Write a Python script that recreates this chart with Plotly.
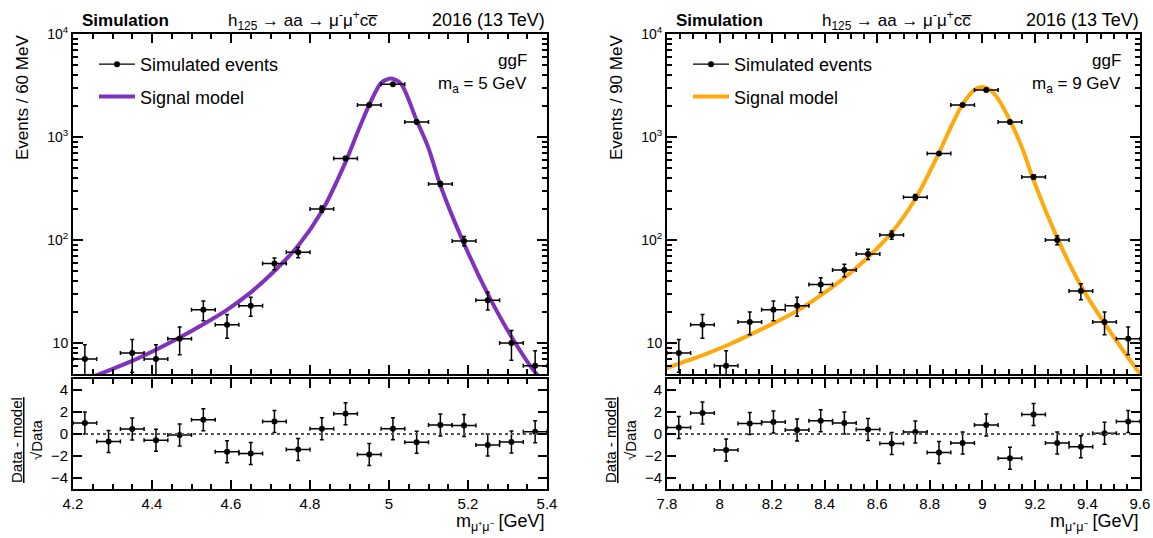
import plotly.graph_objects as go

W, H = 1153, 538

# ---------------- data: left panel (m_a = 5 GeV, 60 MeV bins) ----------------
left_centers = [4.23, 4.29, 4.35, 4.41, 4.47, 4.53, 4.59, 4.65, 4.71, 4.77,
                4.83, 4.89, 4.95, 5.01, 5.07, 5.13, 5.19, 5.25, 5.31, 5.37]
left_halfwidth = [0.03] * 20
left_events = [7, 3, 8, 7, 11, 21, 15, 23, 59, 76,
               200, 620, 2050, 3250, 1400, 350, 98, 26, 10, 6]
left_errors = [2.6, 1.7, 2.8, 2.6, 3.3, 4.6, 3.9, 4.8, 7.7, 8.7,
               14, 25, 45, 57, 37, 19, 9.9, 5.1, 3.2, 2.4]
left_pulls = [1.0, -0.69, 0.45, -0.57, -0.09, 1.29, -1.62, -1.77, 1.14, -1.41,
              0.48, 1.83, -1.86, 0.48, -0.75, 0.81, 0.78, -0.99, -0.72, 0.21]
left_pull_err = [1.0] * 20
left_model_x = [4.20, 4.23, 4.29, 4.35, 4.41, 4.47, 4.53, 4.59, 4.65, 4.71, 4.77,
                4.83, 4.89, 4.92, 4.95, 4.98, 5.005, 5.03, 5.07, 5.10, 5.13,
                5.19, 5.25, 5.31, 5.37, 5.40]
left_model_y = [4.0, 4.4, 5.4, 6.7, 8.6, 11.3, 15.2, 21, 31, 50, 88,
                190, 570, 1100, 2050, 3350, 3700, 3300, 1450, 780, 340,
                92, 30, 11.5, 5.2, 4.0]

# ---------------- data: right panel (m_a = 9 GeV, 90 MeV bins) ----------------
right_centers = [7.845, 7.935, 8.025, 8.115, 8.205, 8.295, 8.385, 8.475, 8.565, 8.655,
                 8.745, 8.835, 8.925, 9.015, 9.105, 9.195, 9.285, 9.375, 9.465, 9.555]
right_halfwidth = [0.045] * 20
right_events = [8, 15, 6, 16, 21, 23, 37, 51, 73, 112,
                260, 690, 2050, 2860, 1400, 410, 100, 32, 16, 11]
right_errors = [2.8, 3.9, 2.4, 4.0, 4.6, 4.8, 6.1, 7.1, 8.5, 10.6,
                16, 26, 45, 53, 37, 20, 10, 5.7, 4.0, 3.3]
right_pulls = [0.6, 1.9, -1.45, 0.96, 1.1, 0.36, 1.2, 1.0, 0.42, -0.87,
               0.18, -1.68, -0.81, 0.81, -2.2, 1.77, -0.81, -1.17, 0.06, 1.14]
right_pull_err = [1.0] * 20
right_model_x = [7.80, 7.845, 7.935, 8.025, 8.115, 8.205, 8.295, 8.385, 8.475, 8.565,
                 8.655, 8.745, 8.835, 8.88, 8.925, 8.97, 9.00, 9.03, 9.06, 9.105,
                 9.15, 9.195, 9.285, 9.375, 9.465, 9.555, 9.60]
right_model_y = [5.7, 6.3, 7.6, 9.4, 12.0, 15.5, 20.5, 29, 43, 68,
                 118, 250, 700, 1250, 2080, 2870, 3050, 2870, 2350, 1450,
                 800, 380, 105, 36, 15.5, 7.2, 5.0]

log_tickvals = [10, 100, 1000, 10000]
log_ticktext = ["10", "10<sup>2</sup>", "10<sup>3</sup>", "10<sup>4</sup>"]
pull_tickvals = [-4, -2, 0, 2, 4]

FONT = "Liberation Sans, Arial, Helvetica, sans-serif"
PURPLE = "#8031BD"
ORANGE = "#FFA90E"

# layout geometry (pixels)
L_X0, L_X1 = 73, 547
R_X0, R_X1 = 667, 1140
TOP_Y0, TOP_Y1 = 34, 374
BOT_Y0, BOT_Y1 = 379, 489


def px(x):
    return x / W


def py(y):
    return 1 - y / H


fig = go.Figure()

panels = [
    dict(cx=left_centers, hw=left_halfwidth, ev=left_events, er=left_errors,
         pu=left_pulls, pe=left_pull_err, mx=left_model_x, my=left_model_y,
         color=PURPLE, xr=[4.2, 5.4], top=("x", "y"), bot=("x2", "y2"), legend="legend"),
    dict(cx=right_centers, hw=right_halfwidth, ev=right_events, er=right_errors,
         pu=right_pulls, pe=right_pull_err, mx=right_model_x, my=right_model_y,
         color=ORANGE, xr=[7.8, 9.6], top=("x3", "y3"), bot=("x4", "y4"), legend="legend2"),
]

for p in panels:
    tx, ty = p["top"]
    bx, by = p["bot"]
    # legend-only entries
    fig.add_trace(go.Scatter(x=[None], y=[None], mode="lines+markers",
                             line=dict(color="black", width=1.2),
                             marker=dict(color="black", size=6),
                             name="Simulated events", legend=p["legend"],
                             legendgroup=p["legend"] + "a", showlegend=True,
                             xaxis=tx, yaxis=ty))
    fig.add_trace(go.Scatter(x=[None], y=[None], mode="lines",
                             line=dict(color=p["color"], width=4),
                             name="Signal model", legend=p["legend"],
                             legendgroup=p["legend"] + "b", showlegend=True,
                             xaxis=tx, yaxis=ty))
    # model curve
    fig.add_trace(go.Scatter(x=p["mx"], y=p["my"], mode="lines",
                             line=dict(color=p["color"], width=4, shape="spline", smoothing=0.8),
                             showlegend=False, xaxis=tx, yaxis=ty, hoverinfo="skip"))
    # simulated events
    fig.add_trace(go.Scatter(x=p["cx"], y=p["ev"], mode="markers",
                             marker=dict(color="black", size=6),
                             error_y=dict(type="data", array=p["er"], color="black",
                                          thickness=1.5, width=2),
                             error_x=dict(type="data", array=p["hw"], color="black",
                                          thickness=1.5, width=2),
                             showlegend=False, xaxis=tx, yaxis=ty))
    # pulls
    fig.add_trace(go.Scatter(x=p["cx"], y=p["pu"], mode="markers",
                             marker=dict(color="black", size=6),
                             error_y=dict(type="data", array=p["pe"], color="black",
                                          thickness=1.5, width=2),
                             error_x=dict(type="data", array=p["hw"], color="black",
                                          thickness=1.5, width=2),
                             showlegend=False, xaxis=bx, yaxis=by))
    # zero line
    fig.add_trace(go.Scatter(x=p["xr"], y=[0, 0], mode="lines",
                             line=dict(color="#555555", width=2, dash="dot"),
                             showlegend=False, xaxis=bx, yaxis=by, hoverinfo="skip"))


def xaxis(domain, rng, anchor, labels):
    return dict(domain=domain, range=rng, anchor=anchor, showline=True, linecolor="black",
                linewidth=2, mirror="allticks", ticks="inside", ticklen=9, tickwidth=1.5,
                tickcolor="black", tick0=rng[0], dtick=0.2, showgrid=False, zeroline=False,
                automargin=False,
                showticklabels=labels, tickfont=dict(size=15, color="black", family=FONT),
                minor=dict(ticks="inside", ticklen=5, dtick=0.05, tick0=rng[0],
                           tickcolor="black", tickwidth=1.5, showgrid=False))


def ylog(domain, anchor):
    return dict(domain=domain, type="log", range=[0.69897, 4], anchor=anchor,
                showline=True, linecolor="black", linewidth=2, mirror="allticks",
                ticks="inside", ticklen=10, tickwidth=1.5, tickcolor="black",
                tickmode="array", tickvals=log_tickvals, ticktext=log_ticktext,
                showgrid=False, zeroline=False, automargin=False,
                tickfont=dict(size=14, color="black", family=FONT),
                minor=dict(ticks="inside", ticklen=5, dtick="D1", tickcolor="black",
                           tickwidth=1.5, showgrid=False))


def ypull(domain, anchor):
    return dict(domain=domain, range=[-5, 5], anchor=anchor, showline=True,
                linecolor="black", linewidth=2, mirror="allticks", ticks="inside",
                ticklen=9, tickwidth=1.5, tickcolor="black", tickmode="array",
                tickvals=pull_tickvals, showgrid=False, zeroline=False, automargin=False,
                tickfont=dict(size=15, color="black", family=FONT))


top_dom = [py(TOP_Y1), py(TOP_Y0)]
bot_dom = [py(BOT_Y1), py(BOT_Y0)]
ldom = [px(L_X0), px(L_X1)]
rdom = [px(R_X0), px(R_X1)]

annotations = []
for dx, binlab, malab in [(0, "60", "5"), (R_X0 - L_X0, "90", "9")]:
    annotations += [
        dict(text="<b>Simulation</b>", x=px(80 + dx), y=py(20), xanchor="left",
             yanchor="middle", font=dict(size=17)),
        dict(text="h<sub>125</sub> → aa → μ<sup>-</sup>μ<sup>+</sup>cc\u0305",
             x=px(303 + dx), y=py(20), xanchor="center", yanchor="middle",
             font=dict(size=17)),
        dict(text="2016 (13 TeV)", x=px(547 + dx), y=py(20), xanchor="right",
             yanchor="middle", font=dict(size=18)),
        dict(text="ggF", x=px(529 + dx), y=py(61), xanchor="right", yanchor="middle",
             font=dict(size=17)),
        dict(text="m<sub>a</sub> = " + malab + " GeV", x=px(529 + dx), y=py(85),
             xanchor="right", yanchor="middle", font=dict(size=17)),
        dict(text="Events / " + binlab + " MeV", x=px(22 + dx), y=py(98), textangle=-90,
             xanchor="center", yanchor="middle", font=dict(size=17)),
        dict(text="<u>Data - model</u><br>√Data", x=px(26 + dx), y=py(440),
             textangle=-90, xanchor="center", yanchor="middle", font=dict(size=15)),
        dict(text="m<sub>μ⁺μ⁻</sub> [GeV]", x=px(547 + dx), y=py(522),
             xanchor="right", yanchor="middle", font=dict(size=18)),
    ]
for a in annotations:
    a.update(xref="paper", yref="paper", showarrow=False)
    a["font"].update(color="black", family=FONT)

legend_common = dict(xanchor="left", yanchor="top", bgcolor="rgba(0,0,0,0)",
                     font=dict(size=18, color="black", family=FONT),
                     tracegroupgap=6, itemwidth=36, traceorder="grouped")

fig.update_layout(
    width=W, height=H, margin=dict(l=0, r=0, t=0, b=0, pad=0, autoexpand=False),
    paper_bgcolor="white", plot_bgcolor="white",
    font=dict(family=FONT, color="black"),
    xaxis=xaxis(ldom, [4.2, 5.4], "y", False),
    yaxis=ylog(top_dom, "x"),
    xaxis2=xaxis(ldom, [4.2, 5.4], "y2", True),
    yaxis2=ypull(bot_dom, "x2"),
    xaxis3=xaxis(rdom, [7.8, 9.6], "y3", False),
    yaxis3=ylog(top_dom, "x3"),
    xaxis4=xaxis(rdom, [7.8, 9.6], "y4", True),
    yaxis4=ypull(bot_dom, "x4"),
    legend=dict(x=px(94), y=py(46), **legend_common),
    legend2=dict(x=px(94 + R_X0 - L_X0), y=py(46), **legend_common),
    annotations=annotations,
    showlegend=True,
)

fig.write_html("out.html", config={"displayModeBar": False},
               post_script="document.body.style.margin='0';document.body.style.overflow='hidden';")
